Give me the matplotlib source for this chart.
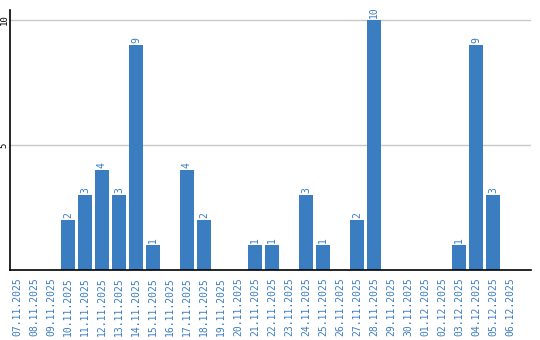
import matplotlib
matplotlib.use("Agg")
import matplotlib.pyplot as plt

dates = ["07.11.2025", "08.11.2025", "09.11.2025", "10.11.2025", "11.11.2025",
         "12.11.2025", "13.11.2025", "14.11.2025", "15.11.2025", "16.11.2025",
         "17.11.2025", "18.11.2025", "19.11.2025", "20.11.2025", "21.11.2025",
         "22.11.2025", "23.11.2025", "24.11.2025", "25.11.2025", "26.11.2025",
         "27.11.2025", "28.11.2025", "29.11.2025", "30.11.2025", "01.12.2025",
         "02.12.2025", "03.12.2025", "04.12.2025", "05.12.2025", "06.12.2025"]
values = [0, 0, 0, 2, 3, 4, 3, 9, 1, 0,
          4, 2, 0, 0, 1, 1, 0, 3, 1, 0,
          2, 10, 0, 0, 0, 0, 1, 9, 3, 0]
yticks = [5, 10]

blue = "#3b7dc1"
font = "DejaVu Sans Mono"

fig = plt.figure(figsize=(5.4, 3.4), dpi=100)
ax = fig.add_axes([10/540, 70/340, 521/540, 260/340])

x = list(range(len(dates)))
ax.bar(x, values, width=0.82, color=blue, zorder=2)
for xi, v in zip(x, values):
    if v > 0:
        ax.text(xi, v + 0.08, str(v), rotation=90, ha="center", va="bottom",
                color=blue, fontsize=7, family=font)

ax.set_xlim(-0.41, len(dates) - 1 + 1.24)
ax.set_ylim(0, 10.4)
ax.set_yticks(yticks)
ax.set_yticklabels([str(t) for t in yticks], rotation=90, va="center",
                   fontsize=6.5, family=font)
ax.set_xticks(x)
ax.set_xticklabels(dates, rotation=90, color=blue, fontsize=7, family=font)
ax.tick_params(axis="both", length=0)
ax.tick_params(axis="x", pad=5)
ax.tick_params(axis="y", pad=1)
ax.grid(axis="y", color="#c8c8c8", linewidth=1, zorder=0)
for s in ["top", "right"]:
    ax.spines[s].set_visible(False)
for s in ["left", "bottom"]:
    ax.spines[s].set_color("black")
    ax.spines[s].set_linewidth(1.2)
    ax.spines[s].set_zorder(3)

fig.savefig("out.png", dpi=100)
